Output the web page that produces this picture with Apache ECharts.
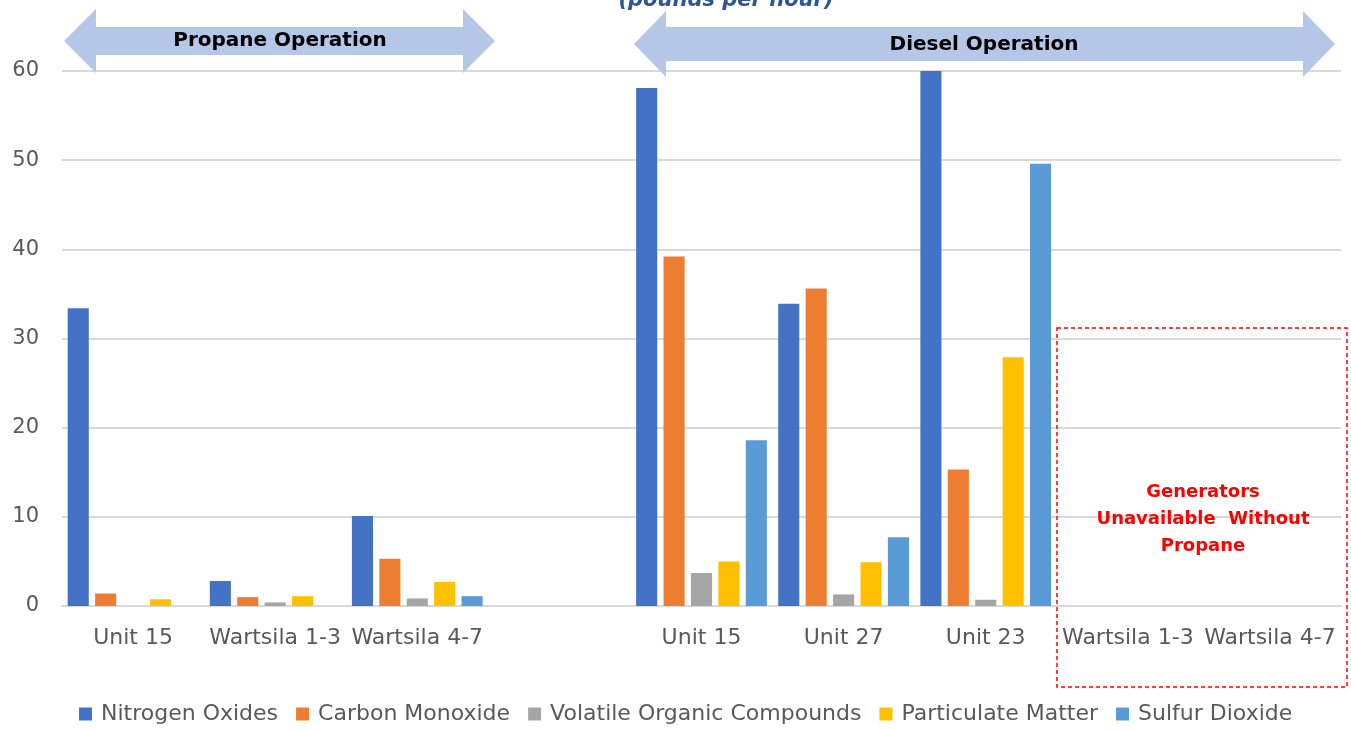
<!DOCTYPE html>
<html>
<head>
<meta charset="utf-8">
<script src="https://cdn.jsdelivr.net/npm/echarts@6/dist/echarts.min.js"></script>
<style>
  html, body { margin: 0; padding: 0; background: #fff; }
  #chart { width: 1351px; height: 730px; }
</style>
</head>
<body>
<div id="chart"></div>
<script>
  // categories: propane group, spacer, diesel group
  var categories = ['Unit 15', 'Wartsila 1-3', 'Wartsila 4-7', '', 'Unit 15', 'Unit 27', 'Unit 23', 'Wartsila 1-3', 'Wartsila 4-7']
  var seriesNames = ['Nitrogen Oxides', 'Carbon Monoxide', 'Volatile Organic Compounds', 'Particulate Matter', 'Sulfur Dioxide']
  var colors = ['#4472C4', '#ED7D31', '#A5A5A5', '#FFC000', '#5B9BD5']

  // pounds per hour
  var nox = [33.4, 2.8, 10.1, '-', 58.1, 33.9, 60, '-', '-']
  var co = [1.4, 1.0, 5.3, '-', 39.2, 35.6, 15.3, '-', '-']
  var voc = ['-', 0.4, 0.85, '-', 3.7, 1.3, 0.7, '-', '-']
  var pm = [0.75, 1.1, 2.7, '-', 5.0, 4.9, 27.9, '-', '-']
  var so2 = ['-', '-', 1.1, '-', 18.6, 7.7, 49.6, '-', '-']
  var values = [nox, co, voc, pm, so2]

  var yTicks = { min: 0, max: 60, interval: 10 }

  var font = 'DejaVu Sans'
  var myChart = echarts.init(document.getElementById('chart'))

  var series = []
  for (var i = 0; i < seriesNames.length; i++) {
    series.push({
      name: seriesNames[i],
      type: 'bar',
      data: values[i],
      barGap: '30%',
      barCategoryGap: '8%',
      itemStyle: { color: colors[i] }
    })
  }

  var arrowColor = '#B4C7E7'
  // double headed arrow polygon
  function arrow (x1, x2, yc, headW, headH, shaftH) {
    return [
      [x1, yc],
      [x1 + headW, yc - headH],
      [x1 + headW, yc - shaftH],
      [x2 - headW, yc - shaftH],
      [x2 - headW, yc - headH],
      [x2, yc],
      [x2 - headW, yc + headH],
      [x2 - headW, yc + shaftH],
      [x1 + headW, yc + shaftH],
      [x1 + headW, yc + headH]
    ]
  }

  myChart.setOption({
    animation: false,
    textStyle: { fontFamily: font },
    title: {
      text: '(pounds per hour)',
      left: 721,
      top: -15,
      textAlign: 'center',
      textStyle: { color: '#2F5597', fontSize: 21, fontStyle: 'italic', fontWeight: 'bold', fontFamily: font }
    },
    grid: { left: 62, right: 10, top: 71, bottom: 124, containLabel: false },
    legend: {
      bottom: 0,
      left: 74,
      icon: 'rect',
      itemWidth: 13,
      itemHeight: 13,
      itemGap: 18,
      textStyle: { color: '#595959', fontSize: 22, fontFamily: font, padding: [0, 0, 0, 4] },
      data: seriesNames
    },
    xAxis: {
      type: 'category',
      data: categories,
      axisLine: { lineStyle: { color: '#D9D9D9', width: 2 } },
      axisTick: { show: false },
      axisLabel: { color: '#595959', fontSize: 22, fontFamily: font, margin: 21, interval: 0 }
    },
    yAxis: {
      type: 'value',
      min: yTicks.min,
      max: yTicks.max,
      interval: yTicks.interval,
      axisLine: { show: false },
      axisTick: { show: false },
      axisLabel: { color: '#595959', fontSize: 21, fontFamily: font, margin: 23 },
      splitLine: { lineStyle: { color: '#D9D9D9', width: 2 } }
    },
    graphic: [
      {
        type: 'polygon',
        shape: { points: arrow(64, 495, 41, 32, 32, 14) },
        style: { fill: arrowColor },
        z: 10
      },
      {
        type: 'text',
        x: 280, y: 41,
        style: { text: 'Propane Operation', fill: '#000', font: 'bold 20px "DejaVu Sans"', align: 'center', verticalAlign: 'middle' },
        z: 11
      },
      {
        type: 'polygon',
        shape: { points: arrow(634, 1335, 44, 32, 33, 17) },
        style: { fill: arrowColor },
        z: 10
      },
      {
        type: 'text',
        x: 984, y: 45,
        style: { text: 'Diesel Operation', fill: '#000', font: 'bold 20px "DejaVu Sans"', align: 'center', verticalAlign: 'middle' },
        z: 11
      },
      {
        type: 'rect',
        shape: { x: 1057, y: 328, width: 290, height: 359 },
        style: { fill: 'none', stroke: '#FF0000', lineWidth: 1.5, lineDash: [4, 3] },
        z: 10
      },
      {
        type: 'text',
        x: 1203, y: 519,
        style: { text: 'Generators\nUnavailable  Without\nPropane', fill: '#FF0000', font: 'bold 18px "DejaVu Sans"', align: 'center', verticalAlign: 'middle', lineHeight: 27 },
        z: 11
      }
    ],
    series: series
  })
</script>
</body>
</html>
